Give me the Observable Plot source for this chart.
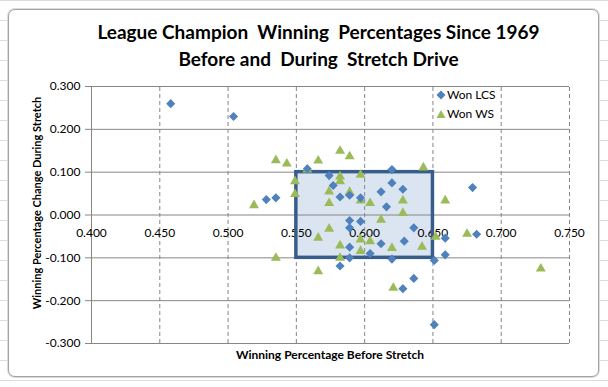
<!DOCTYPE html>
<html>
<head>
<meta charset="utf-8">
<script src="https://cdn.jsdelivr.net/npm/d3@7"></script>
<script src="https://cdn.jsdelivr.net/npm/@observablehq/plot@0.6"></script>
<style>
  html, body { margin: 0; padding: 0; }
  body { width: 608px; height: 387px; overflow: hidden; font-family: Lato, "Open Sans", sans-serif; }
  #wrap {
    position: relative; width: 608px; height: 387px;
    background-color: #ffffff;
    background-image:
      repeating-linear-gradient(to bottom, #dadcdf 0 1px, transparent 1px 20px);
  }
  #frame {
    position: absolute; left: 8px; top: 9px; width: 589px; height: 366px;
    background: #fff; border: 1px solid #a3a3a3; border-radius: 7px;
    box-shadow: 0 0 0 1px #dcdcdc;
  }
  #chart { position: absolute; left: 0; top: 0; }
  .title { position: absolute; left: 0; width: 637px; text-align: center; font-family: Lato, sans-serif;
           font-weight: 700; font-size: 19px; color: #000; line-height: 20px; white-space: pre; }
  .axt { position: absolute; font-family: Lato, sans-serif; font-weight: 700; color: #000; white-space: nowrap; }
  .leg { position: absolute; font-family: Lato, sans-serif; font-size: 12px; color: #000; white-space: nowrap; line-height: 14px; }
  .leg svg { position: absolute; left: -11px; top: 0px; }
</style>
</head>
<body>
<div id="wrap">
  <div id="frame"></div>
  <div id="chart"></div>
  <div class="title" style="top:22px;">League Champion  Winning  Percentages Since 1969</div>
  <div class="title" style="top:49px;">Before and  During  Stretch Drive</div>
  <div class="axt" id="xt" style="left:0; top:347px; width:660px; text-align:center; font-size:12px;">Winning Percentage Before Stretch</div>
  <div class="axt" id="yt" style="left:36px; top:203px; font-size:11px; transform: translate(-50%,-50%) rotate(-90deg);">Winning Percentage Change During Stretch</div>
  <div class="leg" style="left:447px; top:88px;"><svg width="10" height="14"><path d="M5,2.5 L9.5,7 L5,11.5 L0.5,7 Z" fill="#4f81bd"/></svg>Won LCS</div>
  <div class="leg" style="left:447px; top:107px;"><svg width="10" height="14"><path d="M5,3 L9.5,11 L0.5,11 Z" fill="#9bbb59"/></svg>Won WS</div>
</div>
<script>
// Axis ticks
const xTicks = [0.40, 0.45, 0.50, 0.55, 0.60, 0.65, 0.70, 0.75];
const yTicks = [-0.3, -0.2, -0.1, 0.0, 0.1, 0.2, 0.3];

// Highlight box (winning pct 0.550-0.650, change -0.100..0.100)
const boxX = [0.55, 0.65];
const boxY = [-0.1, 0.1];

// Won LCS (blue diamonds)
const lcsBefore = [0.458, 0.504, 0.528, 0.535, 0.558, 0.574, 0.577, 0.582, 0.589, 0.597,
                   0.620, 0.620, 0.628, 0.612, 0.616, 0.679, 0.589, 0.597, 0.589, 0.636,
                   0.682, 0.659, 0.612, 0.629, 0.589, 0.604, 0.589, 0.620, 0.651, 0.659,
                   0.582, 0.636, 0.628, 0.651];
const lcsChange = [0.260, 0.230, 0.036, 0.040, 0.108, 0.092, 0.069, 0.042, 0.046, 0.040,
                   0.106, 0.075, 0.060, 0.054, 0.019, 0.064, -0.013, -0.015, -0.030, -0.030,
                   -0.045, -0.054, -0.067, -0.061, -0.075, -0.090, -0.100, -0.103, -0.106, -0.093,
                   -0.119, -0.148, -0.172, -0.256];

// Won WS (green triangles)
const wsBefore = [0.519, 0.535, 0.543, 0.566, 0.582, 0.589, 0.558, 0.549, 0.549, 0.582,
                  0.582, 0.574, 0.589, 0.597, 0.597, 0.574, 0.643, 0.604, 0.628, 0.659,
                  0.628, 0.612, 0.574, 0.566, 0.582, 0.597, 0.597, 0.582, 0.566, 0.604,
                  0.620, 0.642, 0.652, 0.675, 0.535, 0.729, 0.621];
const wsChange = [0.025, 0.130, 0.122, 0.129, 0.152, 0.139, 0.108, 0.081, 0.051, 0.092,
                  0.081, 0.057, 0.056, 0.096, 0.036, 0.030, 0.113, 0.030, 0.036, 0.036,
                  0.007, -0.009, -0.030, -0.051, -0.069, -0.055, -0.082, -0.098, -0.129, -0.059,
                  -0.075, -0.072, -0.049, -0.042, -0.098, -0.123, -0.168];

const lcs = lcsBefore.map((x, i) => ({x, y: lcsChange[i]}));
const ws = wsBefore.map((x, i) => ({x, y: wsChange[i]}));
const box = [{x1: boxX[0], x2: boxX[1], y1: boxY[0], y2: boxY[1]}];

const grid = "#868686";
const fmt = d => d.toFixed(3);

const chart = Plot.plot({
  width: 608,
  height: 387,
  marginLeft: 91,
  marginRight: 39,
  marginTop: 86,
  marginBottom: 44,
  style: {background: "none", fontFamily: "Lato, sans-serif", fontSize: "12px", overflow: "visible"},
  x: {domain: [xTicks[0], xTicks[xTicks.length - 1]], axis: null},
  y: {domain: [yTicks[0], yTicks[yTicks.length - 1]]},
  marks: [
    Plot.rect(box, {x1: "x1", x2: "x2", y1: "y1", y2: "y2", fill: "#dbe5f1"}),
    Plot.ruleY(yTicks, {x1: xTicks[0], x2: xTicks[xTicks.length - 1], stroke: grid, strokeWidth: 1}),
    Plot.ruleX(xTicks.slice(1), {y1: yTicks[0], y2: yTicks[yTicks.length - 1], stroke: grid, strokeDasharray: "4,3"}),
    Plot.ruleX([xTicks[0]], {y1: yTicks[0], y2: yTicks[yTicks.length - 1], stroke: grid}),
    Plot.axisY(yTicks, {tickSize: 6, tickPadding: 5, tickFormat: fmt, fontSize: 12, color: "#000", stroke: grid, label: null}),
    Plot.text(xTicks, {x: d => d, y: 0, dy: 18, text: fmt, fontSize: 12, fill: "#000"}),
    Plot.rect(box, {x1: "x1", x2: "x2", y1: "y1", y2: "y2", fill: "none", stroke: "#385d8a", strokeWidth: 3.5}),
    Plot.dot(ws, {x: "x", y: "y", symbol: "triangle", r: 3.7, dy: 1, fill: "#9bbb59"}),
    Plot.dot(lcs, {x: "x", y: "y", symbol: "diamond2", r: 4.1, fill: "#4f81bd"})
  ]
});
document.getElementById("chart").appendChild(chart);
</script>
</body>
</html>
